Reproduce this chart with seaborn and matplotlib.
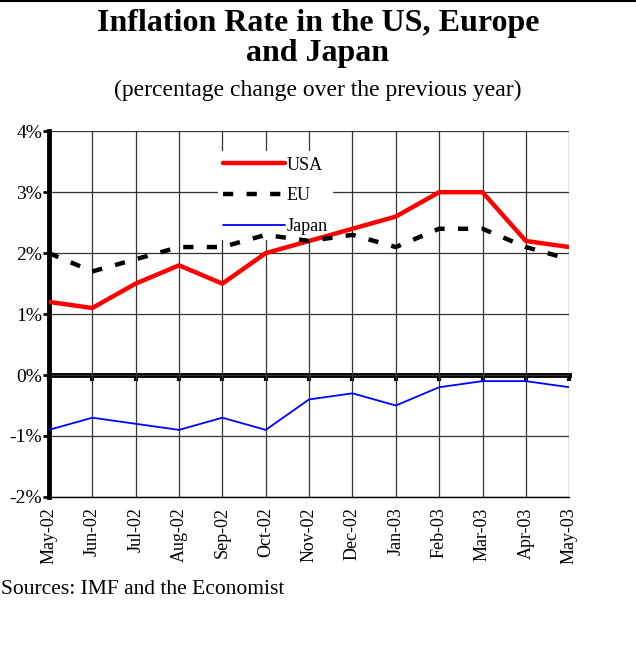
import pandas as pd
import matplotlib
matplotlib.use('Agg')
import matplotlib.pyplot as plt
import seaborn as sns

# data
months = ['May-02', 'Jun-02', 'Jul-02', 'Aug-02', 'Sep-02', 'Oct-02', 'Nov-02',
          'Dec-02', 'Jan-03', 'Feb-03', 'Mar-03', 'Apr-03', 'May-03']
usa = [1.2, 1.1, 1.5, 1.8, 1.5, 2.0, 2.2, 2.4, 2.6, 3.0, 3.0, 2.2, 2.1]
eu = [2.0, 1.7, 1.9, 2.1, 2.1, 2.3, 2.2, 2.3, 2.1, 2.4, 2.4, 2.1, 1.9]
japan = [-0.9, -0.7, -0.8, -0.9, -0.7, -0.9, -0.4, -0.3, -0.5, -0.2, -0.1, -0.1, -0.2]
y_ticks = [-2, -1, 0, 1, 2, 3, 4]

sns.set_style('white')
plt.rcParams['font.family'] = ['Liberation Serif', 'DejaVu Serif']
plt.rcParams['text.color'] = 'black'
plt.rcParams['xtick.color'] = 'black'
plt.rcParams['ytick.color'] = 'black'

df = pd.DataFrame({'pos': range(len(months)), 'USA': usa, 'EU': eu, 'Japan': japan})

fig = plt.figure(figsize=(6.36, 6.53), dpi=100)
ax = fig.add_axes([0.077, 0.239, 0.818, 0.560])

sns.lineplot(data=df, x='pos', y='USA', ax=ax, color='#ff0000', lw=3.2, label='USA', zorder=4)
sns.lineplot(data=df, x='pos', y='EU', ax=ax, color='black', lw=3.2, label='EU', zorder=4,
             dashes=(2.3, 3.0))
sns.lineplot(data=df, x='pos', y='Japan', ax=ax, color='#0000ff', lw=1.3, label='Japan', zorder=4)

ax.set_xlim(0, len(months) - 1)
ax.set_ylim(-2, 4)
ax.set_yticks(y_ticks)
ax.set_yticklabels([f'{v}%' for v in y_ticks], fontsize=14)
ax.set_xticks(range(len(months)))
ax.set_xticklabels(months, rotation=90, fontsize=13)
ax.set_xlabel('')
ax.set_ylabel('')
ax.grid(True, color='#333333', lw=0.9)
ax.set_axisbelow(True)

for s in ['top', 'right']:
    ax.spines[s].set_visible(False)
ax.spines['bottom'].set_color('black')
ax.spines['bottom'].set_linewidth(1.0)
ax.spines['left'].set_color('black')
ax.spines['left'].set_linewidth(3.5)
ax.tick_params(axis='y', left=True, length=4, width=2, pad=1)
ax.tick_params(axis='x', bottom=False, pad=4)

# thick zero axis with little ticks
zero = ax.secondary_xaxis(1 / 3)
zero.set_xticks(range(len(months)))
zero.set_xticklabels([])
zero.spines['bottom'].set_linewidth(3.5)
zero.spines['bottom'].set_color('black')
zero.spines['top'].set_linewidth(3.5)
zero.tick_params(axis='x', direction='out', length=4, width=3, color='black', top=False)

leg = ax.legend(loc='upper left', bbox_to_anchor=(0.325, 0.945), frameon=True, fontsize=13,
                handlelength=3.4, labelspacing=0.75, handletextpad=0.1, borderpad=0.3,
                borderaxespad=0)
leg.get_frame().set_edgecolor('none')
leg.get_frame().set_facecolor('white')
leg.get_frame().set_alpha(1)
leg.set_zorder(3)

fig.text(0.5, 0.986, 'Inflation Rate in the US, Europe\nand Japan', ha='center', va='top',
         fontsize=23, fontweight='bold', linespacing=1.05)
fig.text(0.5, 0.862, '(percentage change over the previous year)', ha='center', va='center',
         fontsize=17)
fig.text(0.001, 0.098, 'Sources: IMF and the Economist', ha='left', va='center', fontsize=15.5)
fig.add_artist(plt.Line2D([0, 1], [0.998, 0.998], color='black', lw=1.5))

fig.savefig('out.png', dpi=100)
